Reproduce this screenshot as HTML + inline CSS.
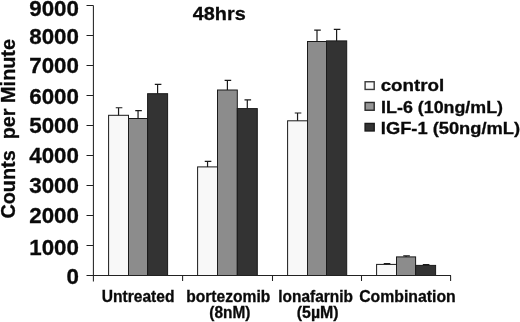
<!DOCTYPE html>
<html><head><meta charset="utf-8"><style>
html,body{margin:0;padding:0;background:#fff;overflow:hidden;}
svg{display:block;filter:blur(0.35px);}
text{font-family:"Liberation Sans",sans-serif;font-weight:bold;fill:#0a0a0a;stroke:#0a0a0a;stroke-width:0.3px;}
.yl{font-size:22px;}
</style></head><body>
<svg width="520" height="322" viewBox="0 0 520 322">
<rect width="520" height="322" fill="#fff"/>
<rect x="108.6" y="115.3" width="19.90" height="160.20" fill="#f8f8f8" stroke="#1a1a1a" stroke-width="1"/>
<path d="M118.55 115.3V107.75M115.75 107.75H122.35" stroke="#1a1a1a" stroke-width="1.2" fill="none"/>
<rect x="128.5" y="118.5" width="19.10" height="157.00" fill="#8c8c8c" stroke="#1a1a1a" stroke-width="1"/>
<path d="M138.05 118.5V110.6M135.25 110.6H141.85" stroke="#1a1a1a" stroke-width="1.2" fill="none"/>
<rect x="147.6" y="93.7" width="20.00" height="181.80" fill="#333333" stroke="#1a1a1a" stroke-width="1"/>
<path d="M157.60 93.7V84.4M154.80 84.4H161.40" stroke="#1a1a1a" stroke-width="1.2" fill="none"/>
<rect x="197.6" y="166.9" width="19.90" height="108.60" fill="#f8f8f8" stroke="#1a1a1a" stroke-width="1"/>
<path d="M207.55 166.9V161.3M204.75 161.3H211.35" stroke="#1a1a1a" stroke-width="1.2" fill="none"/>
<rect x="217.5" y="90.0" width="19.80" height="185.50" fill="#8c8c8c" stroke="#1a1a1a" stroke-width="1"/>
<path d="M227.40 90.0V80.4M224.60 80.4H231.20" stroke="#1a1a1a" stroke-width="1.2" fill="none"/>
<rect x="237.3" y="108.6" width="20.00" height="166.90" fill="#333333" stroke="#1a1a1a" stroke-width="1"/>
<path d="M247.30 108.6V99.8M244.50 99.8H251.10" stroke="#1a1a1a" stroke-width="1.2" fill="none"/>
<rect x="287.6" y="120.8" width="19.90" height="154.70" fill="#f8f8f8" stroke="#1a1a1a" stroke-width="1"/>
<path d="M297.55 120.8V113.0M294.75 113.0H301.35" stroke="#1a1a1a" stroke-width="1.2" fill="none"/>
<rect x="307.5" y="41.5" width="19.00" height="234.00" fill="#8c8c8c" stroke="#1a1a1a" stroke-width="1"/>
<path d="M317.00 41.5V30.1M314.20 30.1H320.80" stroke="#1a1a1a" stroke-width="1.2" fill="none"/>
<rect x="326.5" y="40.9" width="20.20" height="234.60" fill="#333333" stroke="#1a1a1a" stroke-width="1"/>
<path d="M336.60 40.9V29.4M333.80 29.4H340.40" stroke="#1a1a1a" stroke-width="1.2" fill="none"/>
<rect x="376.6" y="264.4" width="19.90" height="11.10" fill="#f8f8f8" stroke="#1a1a1a" stroke-width="1"/>
<path d="M386.55 264.4V263.7M383.75 263.7H390.35" stroke="#1a1a1a" stroke-width="1.2" fill="none"/>
<rect x="396.5" y="256.9" width="19.10" height="18.60" fill="#8c8c8c" stroke="#1a1a1a" stroke-width="1"/>
<path d="M406.05 256.9V255.8M403.25 255.8H409.85" stroke="#1a1a1a" stroke-width="1.2" fill="none"/>
<rect x="415.6" y="265.4" width="20.00" height="10.10" fill="#333333" stroke="#1a1a1a" stroke-width="1"/>
<path d="M425.60 265.4V264.6M422.80 264.6H429.40" stroke="#1a1a1a" stroke-width="1.2" fill="none"/>
<path d="M93.4 5.5V281.5 M86.5 275.5H451 M86.5 275.5H93.4 M86.5 245.5H93.4 M86.5 215.5H93.4 M86.5 185.5H93.4 M86.5 155.5H93.4 M86.5 125.5H93.4 M86.5 95.5H93.4 M86.5 65.5H93.4 M86.5 35.5H93.4 M86.5 5.5H93.4 M182.6 275.5V281 M272.5 275.5V281 M361.5 275.5V281 M450.6 275.5V281" stroke="#222" stroke-width="1.05" fill="none"/>
<text transform="translate(78.9,284.39) scale(1.015,1)" text-anchor="end" class="yl">0</text>
<text transform="translate(78.9,254.54) scale(1.015,1)" text-anchor="end" class="yl">1000</text>
<text transform="translate(78.9,223.19) scale(1.015,1)" text-anchor="end" class="yl">2000</text>
<text transform="translate(78.9,193.34) scale(1.015,1)" text-anchor="end" class="yl">3000</text>
<text transform="translate(78.9,163.49) scale(1.015,1)" text-anchor="end" class="yl">4000</text>
<text transform="translate(78.9,132.99) scale(1.015,1)" text-anchor="end" class="yl">5000</text>
<text transform="translate(78.9,104.39) scale(1.015,1)" text-anchor="end" class="yl">6000</text>
<text transform="translate(78.9,73.49) scale(1.015,1)" text-anchor="end" class="yl">7000</text>
<text transform="translate(78.9,44.29) scale(1.015,1)" text-anchor="end" class="yl">8000</text>
<text transform="translate(78.9,15.99) scale(1.015,1)" text-anchor="end" class="yl">9000</text>
<text x="101.71" y="302.1" textLength="72.7" lengthAdjust="spacingAndGlyphs" style="font-size:15.75px">Untreated</text>
<text x="186.21" y="302.1" textLength="84.16" lengthAdjust="spacingAndGlyphs" style="font-size:15.75px">bortezomib</text>
<text x="209.32" y="317.8" textLength="41.05" lengthAdjust="spacingAndGlyphs" style="font-size:15.75px">(8nM)</text>
<text x="278.32" y="302.1" textLength="74.62" lengthAdjust="spacingAndGlyphs" style="font-size:15.75px">lonafarnib</text>
<text x="296.79" y="317.8" textLength="41.87" lengthAdjust="spacingAndGlyphs" style="font-size:15.75px">(5µM)</text>
<text x="359.2" y="302.1" textLength="96.56" lengthAdjust="spacingAndGlyphs" style="font-size:15.75px">Combination</text>
<text x="192.8" y="19.6" textLength="52.91" lengthAdjust="spacingAndGlyphs" style="font-size:18.75px">48hrs</text>
<text x="380.66" y="90.9" textLength="63.59" lengthAdjust="spacingAndGlyphs" style="font-size:16.5px">control</text>
<text x="381.12" y="112.5" textLength="121.91" lengthAdjust="spacingAndGlyphs" style="font-size:16.5px">IL-6 (10ng/mL)</text>
<text x="380.89" y="134.0" textLength="139.17" lengthAdjust="spacingAndGlyphs" style="font-size:16.5px">IGF-1 (50ng/mL)</text>
<text transform="translate(15,218.6) rotate(-90)" textLength="179.6" lengthAdjust="spacingAndGlyphs" style="font-size:20px">Counts&#160; per Minute</text>
<rect x="365.1" y="81.75" width="9.1" height="7.70" fill="#f8f8f8" stroke="#3a3a3a" stroke-width="1.4"/>
<rect x="365.1" y="102.45" width="9.1" height="7.80" fill="#959595" stroke="#2a2a2a" stroke-width="1.4"/>
<rect x="365.1" y="123.45" width="9.1" height="7.50" fill="#333333" stroke="#1a1a1a" stroke-width="1.4"/>
</svg>
</body></html>
